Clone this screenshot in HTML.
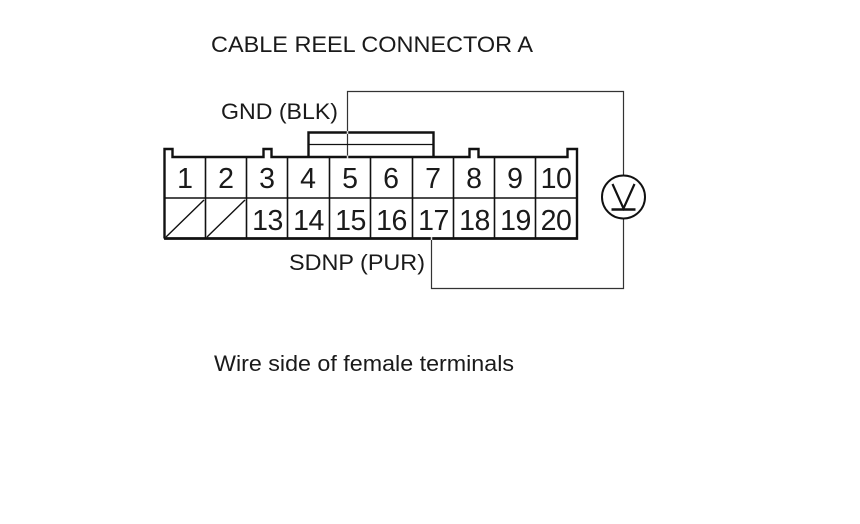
<!DOCTYPE html>
<html><head><meta charset="utf-8"><style>
html,body{margin:0;padding:0;background:#fff;width:860px;height:524px;overflow:hidden}
svg{display:block;filter:blur(.25px)}
text{font-family:"Liberation Sans",Arial,sans-serif;fill:#1a1a1a}
.d{font-size:28.5px;text-anchor:middle}
.t{font-size:28.5px;text-anchor:middle;letter-spacing:-.5px}
.l{font-size:22px}
</style></head><body>
<svg width="860" height="524" viewBox="0 0 860 524" xmlns="http://www.w3.org/2000/svg">
<rect width="860" height="524" fill="#fff"/>
<g fill="none" stroke="#333" stroke-width="1.2">
<path d="M347.5 157V91.5H623.5V175M623.5 219V288.500H431.500V238"/>
</g>
<g fill="none" stroke="#111" stroke-width="1.6">
<path d="M205.500 157V238M246.500 157V238M287.500 157V238M329.500 157V238M370.500 157V238M412.500 157V238M453.500 157V238M494.500 157V238M535.500 157V238"/>
<path d="M164 198H578"/>
<path d="M309 144.500H434" stroke-width="1.200"/>
<path d="M166 237L204 200M207 237L245 200" stroke-width="1.400"/>
</g>
<g fill="none" stroke="#111" stroke-width="2.400">
<path d="M164.500 238.500V149H172.500V157H263.500V149H271.500V157H469.500V149H478.500V157H567.500V149H577V238.500H164.500"/>
<path d="M308.500 157V132.500H433.500V157"/>
<path d="M164 238.500H578"/>
</g>
<g stroke="#ddd" stroke-width="1.500">
<path d="M347.500 131V134M347.500 155.500V158.500M431.500 237V240"/>
</g>
<circle cx="623.500" cy="197" r="21.500" fill="#fff" stroke="#111" stroke-width="2"/>
<path d="M612.500 184L623.500 208.500L634.500 184" fill="none" stroke="#111" stroke-width="2.200"/>
<path d="M611.500 209.500H635.500" stroke="#111" stroke-width="2.400"/>
<text class="d" x="185" y="188">1</text>
<text class="d" x="226" y="188">2</text>
<text class="d" x="267" y="188">3</text>
<text class="d" x="308" y="188">4</text>
<text class="d" x="350" y="188">5</text>
<text class="d" x="391" y="188">6</text>
<text class="d" x="433" y="188">7</text>
<text class="d" x="474" y="188">8</text>
<text class="d" x="515" y="188">9</text>
<text class="t" x="556" y="188">10</text>
<text class="t" x="267.500" y="230">13</text>
<text class="t" x="308.500" y="230">14</text>
<text class="t" x="350.500" y="230">15</text>
<text class="t" x="391.500" y="230">16</text>
<text class="t" x="433.500" y="230">17</text>
<text class="t" x="474.500" y="230">18</text>
<text class="t" x="515.500" y="230">19</text>
<text class="t" x="556" y="230">20</text>
<text class="l" x="211" y="52" textLength="322" lengthAdjust="spacingAndGlyphs">CABLE REEL CONNECTOR A</text>
<text class="l" x="221" y="119" textLength="117" lengthAdjust="spacingAndGlyphs">GND (BLK)</text>
<text class="l" x="289" y="270" textLength="136" lengthAdjust="spacingAndGlyphs">SDNP (PUR)</text>
<text class="l" x="214" y="371" textLength="300" lengthAdjust="spacingAndGlyphs">Wire side of female terminals</text>
</svg>
</body></html>
